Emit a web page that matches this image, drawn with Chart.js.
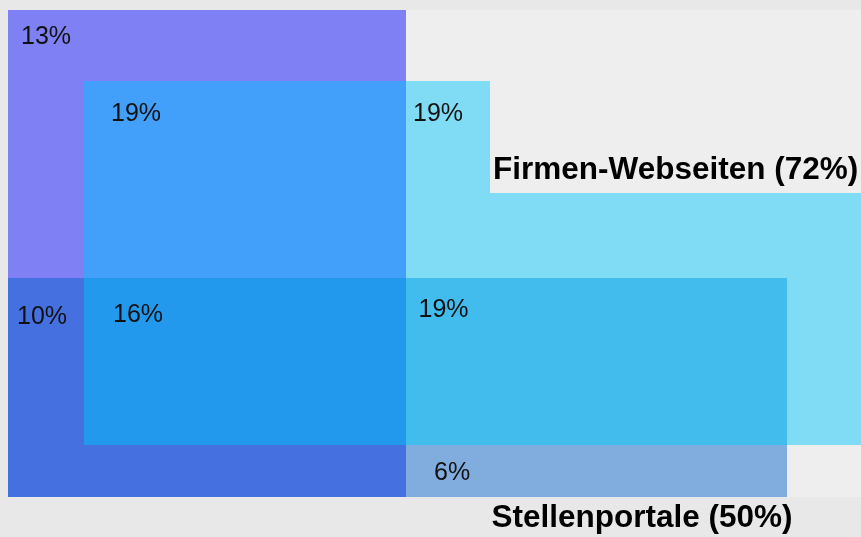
<!DOCTYPE html>
<html>
<head>
<meta charset="utf-8">
<script src="https://cdn.jsdelivr.net/npm/chart.js@4/dist/chart.umd.min.js"></script>
<style>
  html, body { margin: 0; padding: 0; background: #e8e8e8; }
  #wrap { width: 861px; height: 537px; position: relative; }
</style>
</head>
<body>
<div id="wrap"><canvas id="venn"></canvas></div>
<script>
// Region shares (%), one per region of the diagram
const regionNames = ["nur A", "A+Web", "nur Web", "A+Portal", "alle drei", "Web+Portal", "nur Portal"];
const regionPct = [13, 19, 19, 10, 16, 19, 6];
const regionColors = ["#8080f5", "#42a0fa", "#80dcf4", "#4571e0", "#2399ed", "#42bbed", "#80acde"];

// Named sets with their totals
const setNames = ["Firmen-Webseiten", "Stellenportale"];
const setTotals = [72, 50];

// Layout grid of the diagram (diagram units, 1 unit = 1 px)
const gx = [0, 76, 398, 482, 779, 853];
const gy = [0, 71, 183, 268, 435, 487];

// Region outlines built on the grid (index pairs into gx / gy)
const regionShapes = [
  [[0,0],[2,0],[2,1],[1,1],[1,3],[0,3]],
  [[1,1],[2,1],[2,3],[1,3]],
  [[2,1],[3,1],[3,2],[5,2],[5,4],[4,4],[4,3],[2,3]],
  [[0,3],[1,3],[1,4],[2,4],[2,5],[0,5]],
  [[1,3],[2,3],[2,4],[1,4]],
  [[2,3],[4,3],[4,4],[2,4]],
  [[2,4],[4,4],[4,5],[2,5]]
];

// Label anchors (left x, baseline y) in diagram units
const regionLabelPos = [[13,34],[103,111],[405,111],[9,314],[105,312],[410.5,307],[426,470]];
const setLabelPos = [[485,169],[483.5,517]];

const datasets = regionShapes.map((shape, i) => ({
  label: regionNames[i],
  data: shape.map(([xi, yi]) => ({ x: gx[xi], y: gy[yi] })),
  showLine: true,
  fill: "shape",
  backgroundColor: regionColors[i],
  borderColor: regionColors[i],
  borderWidth: 0,
  pointRadius: 0,
  tension: 0
}));

const bgPlugin = {
  id: "bg",
  beforeDraw(chart) {
    const { ctx, chartArea: a } = chart;
    ctx.save();
    ctx.fillStyle = "#e8e8e8";
    ctx.fillRect(0, 0, chart.width, chart.height);
    ctx.fillStyle = "#eeeeee";
    ctx.fillRect(a.left, a.top, a.right - a.left, a.bottom - a.top);
    ctx.restore();
  }
};

const labelPlugin = {
  id: "labels",
  afterDatasetsDraw(chart) {
    const { ctx, scales: { x, y } } = chart;
    ctx.save();
    ctx.fillStyle = "#111";
    ctx.textAlign = "left";
    ctx.textBaseline = "alphabetic";
    ctx.font = "25px 'Liberation Sans', Arial, sans-serif";
    regionPct.forEach((v, i) => {
      const [px, py] = regionLabelPos[i];
      ctx.fillText(v + "%", x.getPixelForValue(px), y.getPixelForValue(py));
    });
    ctx.fillStyle = "#000";
    ctx.font = "bold 31.5px 'Liberation Sans', Arial, sans-serif";
    setNames.forEach((n, i) => {
      const [px, py] = setLabelPos[i];
      ctx.fillText(n + " (" + setTotals[i] + "%)", x.getPixelForValue(px), y.getPixelForValue(py));
    });
    ctx.restore();
  }
};

new Chart(document.getElementById("venn"), {
  type: "scatter",
  data: { datasets },
  options: {
    responsive: true,
    maintainAspectRatio: false,
    animation: false,
    layout: { padding: { left: 8, top: 10, right: 0, bottom: 40 } },
    plugins: { legend: { display: false }, tooltip: { enabled: false } },
    scales: {
      x: { type: "linear", min: 0, max: 853, display: false },
      y: { type: "linear", min: 0, max: 487, reverse: true, display: false }
    }
  },
  plugins: [bgPlugin, labelPlugin]
});
</script>
</body>
</html>
